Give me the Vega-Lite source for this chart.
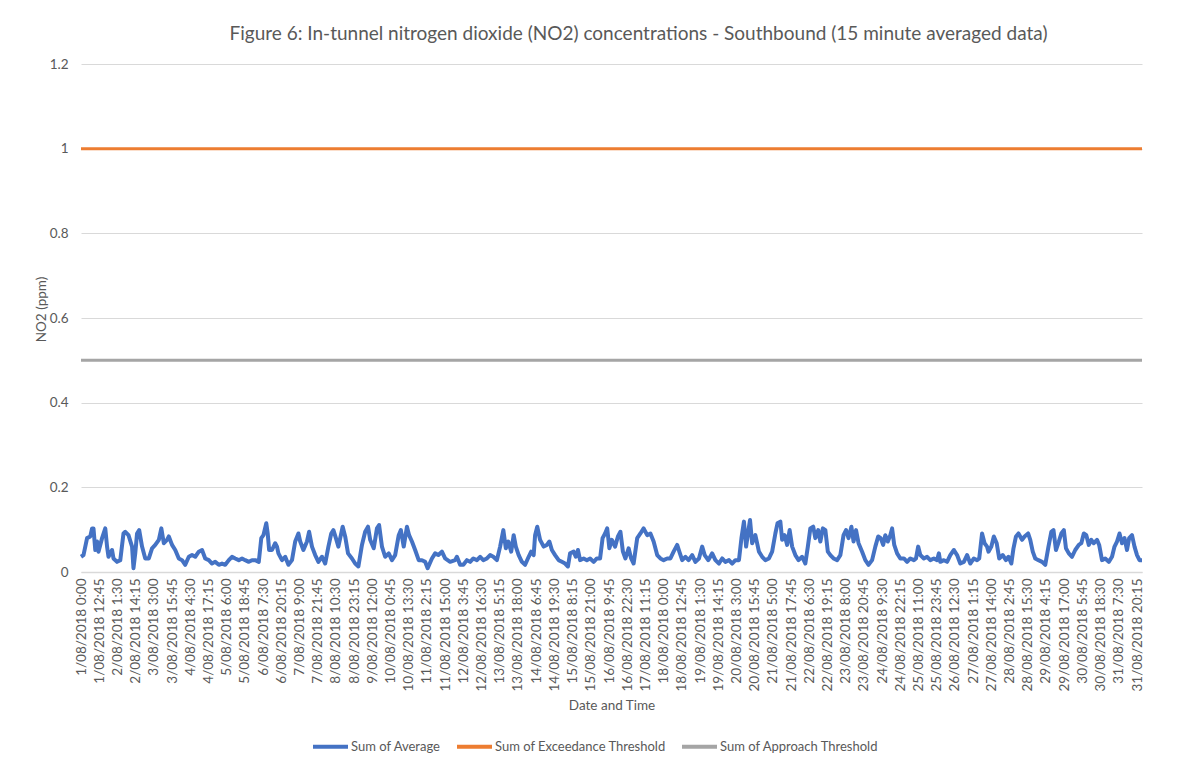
{
"$schema": "https://vega.github.io/schema/vega-lite/v6.json",
"width": 1061, "height": 508,
"autosize": "none",
"padding": {"left": 81, "top": 64, "right": 45, "bottom": 203},
"background": "white",
"config": {"view": {"stroke": null}, "font": "Lato"},
"title": {"text": "Figure 6: In-tunnel nitrogen dioxide (NO2) concentrations - Southbound (15 minute averaged data)", "font": "Lato", "fontSize": 19, "fontWeight": "normal", "color": "#595959", "anchor": "middle", "frame": "group", "dx": 27, "offset": 13},
"datasets": {
"avg": [
{"i":0,"v":0.036},{"i":7,"v":0.040},{"i":17,"v":0.080},{"i":26,"v":0.084},{"i":31,"v":0.103},{"i":35,"v":0.103},{"i":40,"v":0.052},{"i":45,"v":0.072},{"i":49,"v":0.048},{"i":59,"v":0.080},{"i":68,"v":0.103},{"i":73,"v":0.060},{"i":77,"v":0.036},{"i":87,"v":0.052},{"i":91,"v":0.032},{"i":101,"v":0.024},{"i":110,"v":0.028},{"i":119,"v":0.091},{"i":124,"v":0.095},{"i":133,"v":0.087},{"i":143,"v":0.060},{"i":147,"v":0.009},{"i":152,"v":0.044},{"i":157,"v":0.091},{"i":163,"v":0.099},{"i":171,"v":0.060},{"i":180,"v":0.032},{"i":190,"v":0.032},{"i":199,"v":0.056},{"i":208,"v":0.064},{"i":218,"v":0.076},{"i":225,"v":0.103},{"i":232,"v":0.068},{"i":241,"v":0.076},{"i":246,"v":0.084},{"i":255,"v":0.064},{"i":264,"v":0.052},{"i":274,"v":0.032},{"i":283,"v":0.028},{"i":292,"v":0.017},{"i":302,"v":0.036},{"i":311,"v":0.040},{"i":320,"v":0.036},{"i":330,"v":0.048},{"i":339,"v":0.052},{"i":348,"v":0.032},{"i":358,"v":0.028},{"i":367,"v":0.020},{"i":376,"v":0.024},{"i":386,"v":0.017},{"i":395,"v":0.020},{"i":404,"v":0.017},{"i":414,"v":0.028},{"i":423,"v":0.036},{"i":432,"v":0.032},{"i":442,"v":0.028},{"i":451,"v":0.032},{"i":460,"v":0.028},{"i":470,"v":0.024},{"i":479,"v":0.028},{"i":488,"v":0.028},{"i":498,"v":0.024},
{"i":505,"v":0.080},{"i":511,"v":0.087},{"i":519,"v":0.115},{"i":523,"v":0.091},{"i":527,"v":0.052},{"i":535,"v":0.052},{"i":544,"v":0.068},{"i":549,"v":0.060},{"i":553,"v":0.044},{"i":563,"v":0.028},{"i":572,"v":0.036},{"i":581,"v":0.017},{"i":591,"v":0.028},{"i":600,"v":0.072},{"i":609,"v":0.091},{"i":614,"v":0.072},{"i":623,"v":0.052},{"i":633,"v":0.072},{"i":639,"v":0.095},{"i":647,"v":0.060},{"i":656,"v":0.040},{"i":665,"v":0.024},{"i":675,"v":0.036},{"i":684,"v":0.020},{"i":693,"v":0.060},{"i":701,"v":0.091},{"i":707,"v":0.099},{"i":714,"v":0.080},{"i":721,"v":0.060},{"i":733,"v":0.107},{"i":740,"v":0.084},{"i":748,"v":0.044},{"i":759,"v":0.032},{"i":768,"v":0.020},{"i":777,"v":0.013},{"i":787,"v":0.064},{"i":796,"v":0.095},{"i":804,"v":0.107},{"i":810,"v":0.076},{"i":820,"v":0.056},{"i":829,"v":0.103},{"i":835,"v":0.111},{"i":843,"v":0.060},{"i":852,"v":0.036},{"i":862,"v":0.044},{"i":871,"v":0.028},{"i":880,"v":0.040},{"i":890,"v":0.087},{"i":896,"v":0.099},{"i":904,"v":0.060},{"i":913,"v":0.107},{"i":919,"v":0.087},{"i":927,"v":0.072},{"i":936,"v":0.052},{"i":946,"v":0.028},{"i":955,"v":0.028},{"i":964,"v":0.024},{"i":971,"v":0.009},{"i":983,"v":0.032},
{"i":992,"v":0.044},{"i":1001,"v":0.040},{"i":1011,"v":0.048},{"i":1020,"v":0.032},{"i":1034,"v":0.024},{"i":1048,"v":0.028},{"i":1053,"v":0.036},{"i":1062,"v":0.017},{"i":1071,"v":0.017},{"i":1081,"v":0.028},{"i":1090,"v":0.024},{"i":1099,"v":0.032},{"i":1109,"v":0.028},{"i":1118,"v":0.036},{"i":1127,"v":0.028},{"i":1137,"v":0.032},{"i":1146,"v":0.040},{"i":1155,"v":0.036},{"i":1165,"v":0.028},{"i":1174,"v":0.060},{"i":1183,"v":0.099},{"i":1190,"v":0.056},{"i":1197,"v":0.072},{"i":1205,"v":0.048},{"i":1212,"v":0.087},{"i":1218,"v":0.060},{"i":1226,"v":0.040},{"i":1235,"v":0.024},{"i":1244,"v":0.017},{"i":1254,"v":0.036},{"i":1261,"v":0.048},{"i":1268,"v":0.040},{"i":1272,"v":0.087},{"i":1278,"v":0.107},{"i":1286,"v":0.076},{"i":1296,"v":0.060},{"i":1305,"v":0.064},{"i":1312,"v":0.072},{"i":1319,"v":0.052},{"i":1328,"v":0.040},{"i":1338,"v":0.028},{"i":1347,"v":0.024},{"i":1356,"v":0.020},{"i":1364,"v":0.013},{"i":1370,"v":0.044},{"i":1380,"v":0.048},{"i":1386,"v":0.036},{"i":1392,"v":0.052},{"i":1398,"v":0.028},{"i":1408,"v":0.032},{"i":1417,"v":0.028},{"i":1426,"v":0.032},{"i":1436,"v":0.024},{"i":1445,"v":0.032},{"i":1454,"v":0.032},{"i":1461,"v":0.080},{"i":1468,"v":0.091},{"i":1474,"v":0.103},{"i":1480,"v":0.056},{"i":1487,"v":0.076},{"i":1496,"v":0.060},
{"i":1504,"v":0.084},{"i":1511,"v":0.095},{"i":1518,"v":0.048},{"i":1525,"v":0.032},{"i":1534,"v":0.056},{"i":1541,"v":0.032},{"i":1548,"v":0.020},{"i":1558,"v":0.080},{"i":1567,"v":0.091},{"i":1576,"v":0.103},{"i":1586,"v":0.087},{"i":1595,"v":0.091},{"i":1604,"v":0.072},{"i":1614,"v":0.040},{"i":1623,"v":0.032},{"i":1632,"v":0.028},{"i":1642,"v":0.032},{"i":1651,"v":0.032},{"i":1660,"v":0.048},{"i":1670,"v":0.064},{"i":1676,"v":0.048},{"i":1684,"v":0.028},{"i":1693,"v":0.036},{"i":1702,"v":0.028},{"i":1712,"v":0.040},{"i":1721,"v":0.024},{"i":1731,"v":0.032},{"i":1740,"v":0.060},{"i":1747,"v":0.040},{"i":1757,"v":0.028},{"i":1768,"v":0.044},{"i":1777,"v":0.028},{"i":1787,"v":0.020},{"i":1796,"v":0.032},{"i":1805,"v":0.024},{"i":1815,"v":0.028},{"i":1824,"v":0.020},{"i":1833,"v":0.028},{"i":1843,"v":0.028},{"i":1850,"v":0.080},{"i":1857,"v":0.119},{"i":1863,"v":0.060},{"i":1869,"v":0.095},{"i":1874,"v":0.123},{"i":1880,"v":0.068},{"i":1889,"v":0.087},{"i":1899,"v":0.048},{"i":1908,"v":0.036},{"i":1917,"v":0.028},{"i":1927,"v":0.032},{"i":1936,"v":0.048},{"i":1945,"v":0.091},{"i":1951,"v":0.115},{"i":1959,"v":0.119},{"i":1964,"v":0.076},{"i":1971,"v":0.087},{"i":1978,"v":0.064},{"i":1985,"v":0.099},{"i":1992,"v":0.060},
{"i":2001,"v":0.040},{"i":2010,"v":0.028},{"i":2020,"v":0.036},{"i":2029,"v":0.020},{"i":2036,"v":0.060},{"i":2043,"v":0.103},{"i":2051,"v":0.107},{"i":2057,"v":0.080},{"i":2065,"v":0.099},{"i":2071,"v":0.072},{"i":2078,"v":0.103},{"i":2085,"v":0.099},{"i":2092,"v":0.048},{"i":2099,"v":0.040},{"i":2108,"v":0.032},{"i":2118,"v":0.028},{"i":2127,"v":0.040},{"i":2136,"v":0.087},{"i":2143,"v":0.099},{"i":2150,"v":0.080},{"i":2158,"v":0.107},{"i":2164,"v":0.072},{"i":2171,"v":0.099},{"i":2178,"v":0.068},{"i":2188,"v":0.048},{"i":2197,"v":0.028},{"i":2206,"v":0.017},{"i":2216,"v":0.028},{"i":2225,"v":0.060},{"i":2233,"v":0.084},{"i":2240,"v":0.080},{"i":2247,"v":0.064},{"i":2253,"v":0.087},{"i":2260,"v":0.072},{"i":2267,"v":0.087},{"i":2272,"v":0.103},{"i":2278,"v":0.064},{"i":2286,"v":0.044},{"i":2295,"v":0.032},{"i":2305,"v":0.032},{"i":2314,"v":0.024},{"i":2323,"v":0.032},{"i":2333,"v":0.028},{"i":2339,"v":0.032},{"i":2345,"v":0.060},{"i":2351,"v":0.040},{"i":2361,"v":0.032},{"i":2370,"v":0.036},{"i":2379,"v":0.028},{"i":2389,"v":0.032},{"i":2398,"v":0.028},{"i":2403,"v":0.044},{"i":2407,"v":0.024},{"i":2417,"v":0.028},{"i":2426,"v":0.024},{"i":2435,"v":0.040},{"i":2445,"v":0.052},{"i":2454,"v":0.040},{"i":2463,"v":0.020},{"i":2473,"v":0.024},{"i":2482,"v":0.040},{"i":2491,"v":0.020},{"i":2501,"v":0.032},{"i":2510,"v":0.028},{"i":2516,"v":0.032},
{"i":2524,"v":0.091},{"i":2531,"v":0.068},{"i":2538,"v":0.060},{"i":2542,"v":0.048},{"i":2550,"v":0.060},{"i":2557,"v":0.084},{"i":2565,"v":0.068},{"i":2572,"v":0.032},{"i":2582,"v":0.040},{"i":2591,"v":0.028},{"i":2598,"v":0.036},{"i":2606,"v":0.020},{"i":2612,"v":0.056},{"i":2619,"v":0.084},{"i":2626,"v":0.091},{"i":2636,"v":0.076},{"i":2643,"v":0.084},{"i":2653,"v":0.091},{"i":2659,"v":0.076},{"i":2666,"v":0.048},{"i":2673,"v":0.032},{"i":2682,"v":0.028},{"i":2692,"v":0.024},{"i":2701,"v":0.017},{"i":2710,"v":0.060},{"i":2718,"v":0.095},{"i":2724,"v":0.099},{"i":2731,"v":0.052},{"i":2739,"v":0.072},{"i":2746,"v":0.091},{"i":2753,"v":0.099},{"i":2759,"v":0.056},{"i":2767,"v":0.044},{"i":2776,"v":0.036},{"i":2785,"v":0.052},{"i":2795,"v":0.064},{"i":2802,"v":0.068},{"i":2809,"v":0.091},{"i":2816,"v":0.087},{"i":2823,"v":0.064},{"i":2830,"v":0.076},{"i":2837,"v":0.068},{"i":2846,"v":0.076},{"i":2852,"v":0.064},{"i":2860,"v":0.028},{"i":2869,"v":0.032},{"i":2879,"v":0.024},{"i":2888,"v":0.036},{"i":2895,"v":0.060},{"i":2902,"v":0.072},{"i":2909,"v":0.091},{"i":2916,"v":0.068},{"i":2923,"v":0.080},{"i":2930,"v":0.052},{"i":2936,"v":0.080},{"i":2944,"v":0.087},{"i":2951,"v":0.060},{"i":2958,"v":0.040},{"i":2965,"v":0.028},{"i":2972,"v":0.028}
],
"thr": [
{"i":0,"s":"Sum of Exceedance Threshold","v":1},{"i":2972,"s":"Sum of Exceedance Threshold","v":1},
{"i":0,"s":"Sum of Approach Threshold","v":0.5},{"i":2972,"s":"Sum of Approach Threshold","v":0.5}
]
},
"encoding": {
"x": {"field": "i", "type": "quantitative", "scale": {"domain": [0, 2972], "nice": false, "zero": false},
 "axis": {"values": [0,51,102,153,204,255,306,357,408,459,510,561,612,663,714,765,816,867,918,969,1020,1071,1122,1173,1224,1275,1326,1377,1428,1479,1530,1581,1632,1683,1734,1785,1836,1887,1938,1989,2040,2091,2142,2193,2244,2295,2346,2397,2448,2499,2550,2601,2652,2703,2754,2805,2856,2907,2958],
 "labelExpr": "['1/08/2018 0:00','1/08/2018 12:45','2/08/2018 1:30','2/08/2018 14:15','3/08/2018 3:00','3/08/2018 15:45','4/08/2018 4:30','4/08/2018 17:15','5/08/2018 6:00','5/08/2018 18:45','6/08/2018 7:30','6/08/2018 20:15','7/08/2018 9:00','7/08/2018 21:45','8/08/2018 10:30','8/08/2018 23:15','9/08/2018 12:00','10/08/2018 0:45','10/08/2018 13:30','11/08/2018 2:15','11/08/2018 15:00','12/08/2018 3:45','12/08/2018 16:30','13/08/2018 5:15','13/08/2018 18:00','14/08/2018 6:45','14/08/2018 19:30','15/08/2018 8:15','15/08/2018 21:00','16/08/2018 9:45','16/08/2018 22:30','17/08/2018 11:15','18/08/2018 0:00','18/08/2018 12:45','19/08/2018 1:30','19/08/2018 14:15','20/08/2018 3:00','20/08/2018 15:45','21/08/2018 5:00','21/08/2018 17:45','22/08/2018 6:30','22/08/2018 19:15','23/08/2018 8:00','23/08/2018 20:45','24/08/2018 9:30','24/08/2018 22:15','25/08/2018 11:00','25/08/2018 23:45','26/08/2018 12:30','27/08/2018 1:15','27/08/2018 14:00','28/08/2018 2:45','28/08/2018 15:30','29/08/2018 4:15','29/08/2018 17:00','30/08/2018 5:45','30/08/2018 18:30','31/08/2018 7:30','31/08/2018 20:15'][round(datum.value/51)]",
 "labelAngle": 270, "labelAlign": "right", "labelBaseline": "middle", "labelPadding": 6, "labelOverlap": false, "labelFlush": false, "labelBound": false,
 "labelFont": "Lato", "labelFontSize": 13.5, "labelColor": "#595959",
 "ticks": false, "grid": false, "domainColor": "#d9d9d9", "domainWidth": 1.5,
 "title": "Date and Time", "titleFont": "Lato", "titleFontSize": 13.5, "titleFontWeight": "normal", "titleColor": "#595959", "titleY": 126, "titleBaseline": "top"}},
"y": {"field": "v", "type": "quantitative", "scale": {"domain": [0, 1.2], "nice": false},
 "axis": {"values": [0,0.2,0.4,0.6,0.8,1,1.2], "format": ".1~f", "domain": false, "ticks": false, "grid": true, "gridColor": "#d9d9d9", "gridWidth": 1.2,
 "labelFont": "Lato", "labelFontSize": 13.5, "labelColor": "#595959", "labelPadding": 13,
 "title": "NO2 (ppm)", "titleFont": "Lato", "titleFontSize": 13.5, "titleFontWeight": "normal", "titleColor": "#595959", "titleX": -40, "titleY": 245, "titleAngle": 270, "titleAlign": "center", "titleBaseline": "middle"}}
},
"layer": [
{"data": {"name": "thr"}, "mark": {"type": "line", "strokeWidth": 3},
 "encoding": {"color": {"field": "s", "type": "nominal",
  "legend": {"title": null, "orient": "none", "direction": "horizontal", "legendX": 230, "legendY": 663, "symbolType": "stroke", "symbolSize": 1225, "symbolStrokeWidth": 4, "labelFont": "Lato", "labelFontSize": 13, "labelColor": "#595959", "labelOffset": 1, "columnPadding": 8, "labelLimit": 0}}}},
{"data": {"name": "avg"}, "mark": {"type": "line", "strokeWidth": 4, "strokeJoin": "round"},
 "encoding": {"color": {"datum": "Sum of Average", "type": "nominal",
  "scale": {"domain": ["Sum of Average", "Sum of Exceedance Threshold", "Sum of Approach Threshold"], "range": ["#4472C4", "#ED7D31", "#A5A5A5"]},
  "legend": {"title": null, "orient": "none", "direction": "horizontal", "legendX": 230, "legendY": 663, "symbolType": "stroke", "symbolSize": 1225, "symbolStrokeWidth": 4, "labelFont": "Lato", "labelFontSize": 13, "labelColor": "#595959", "labelOffset": 1, "columnPadding": 8, "labelLimit": 0}}}}
]
}
